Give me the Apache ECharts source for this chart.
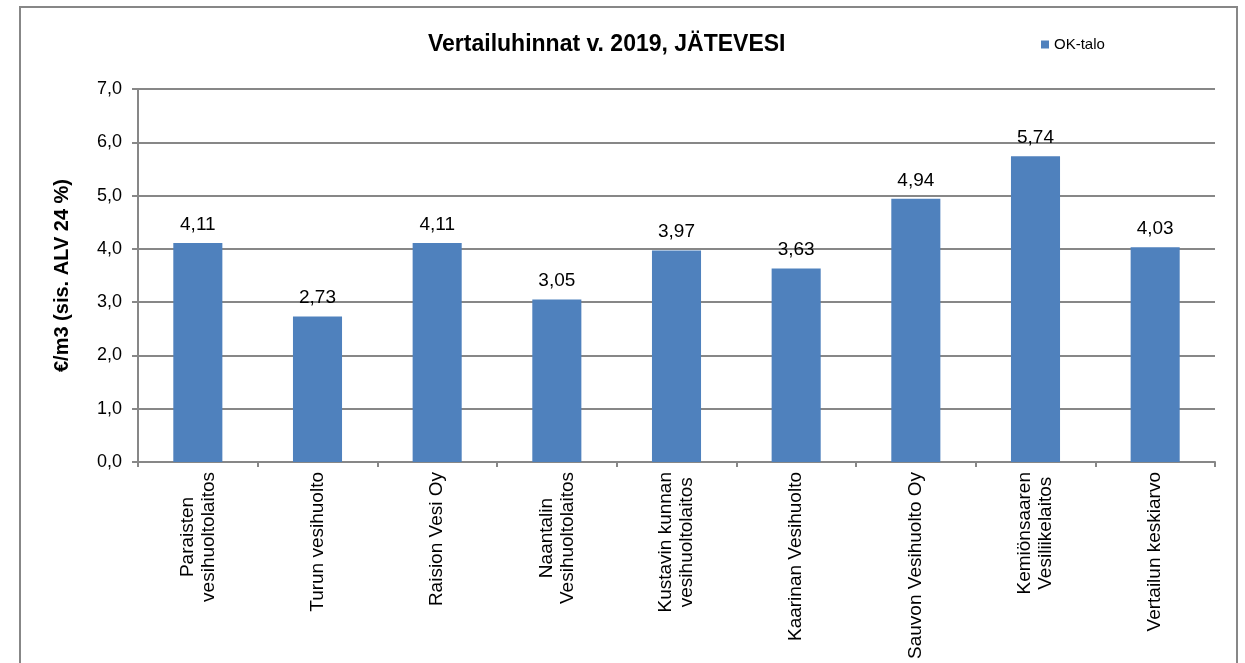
<!DOCTYPE html>
<html>
<head>
<meta charset="utf-8">
<script src="https://cdn.jsdelivr.net/npm/echarts@6/dist/echarts.min.js"></script>
<style>
  html, body { margin: 0; padding: 0; background: #fff; }
  #chart { width: 1245px; height: 663px; }
</style>
</head>
<body>
<div id="chart"></div>
<script>
// data
const categories = [
  'Paraisten\nvesihuoltolaitos',
  'Turun vesihuolto',
  'Raision Vesi Oy',
  'Naantalin\nVesihuoltolaitos',
  'Kustavin kunnan\nvesihuoltolaitos',
  'Kaarinan Vesihuolto',
  'Sauvon Vesihuolto Oy',
  'Kemiönsaaren\nVesiliikelaitos',
  'Vertailun keskiarvo'
]
const okTalo = [4.11, 2.73, 4.11, 3.05, 3.97, 3.63, 4.94, 5.74, 4.03]
const yTicks = [0, 1, 2, 3, 4, 5, 6, 7]

const font = 'Liberation Sans, Arial, sans-serif'
const gray = '#878787'
const fmt = (v, d) => v.toFixed(d).replace('.', ',')

const myChart = echarts.init(document.getElementById('chart'))

const option = {
  animation: false,
  textStyle: { fontFamily: font, color: '#000' },
  // outer frame of the chart area
  graphic: [{
    type: 'rect',
    shape: { x: 20, y: 7, width: 1217, height: 700 },
    style: { fill: 'none', stroke: gray, lineWidth: 2 },
    silent: true
  }],
  title: {
    text: 'Vertailuhinnat v. 2019, JÄTEVESI',
    left: 428,
    top: 33,
    padding: 0,
    textStyle: { fontFamily: font, fontWeight: 'bold', fontSize: 23, color: '#000' }
  },
  legend: {
    data: ['OK-talo'],
    left: 1036,
    top: 32,
    icon: 'rect',
    itemWidth: 8,
    itemHeight: 8,
    textStyle: { fontFamily: font, fontSize: 15, color: '#000' }
  },
  grid: {
    left: 138,
    right: 30,
    top: 89,
    bottom: 201,
    containLabel: false
  },
  xAxis: {
    type: 'category',
    data: categories,
    axisLine: { lineStyle: { color: gray, width: 2 } },
    axisTick: { show: true, length: 5, lineStyle: { color: gray, width: 2 } },
    axisLabel: {
      rotate: 90,
      margin: 10,
      interval: 0,
      formatter: (v) => v.split('\n').map(s => '{c|' + s + '}').join('\n'),
      rich: {
        c: { align: 'center', fontFamily: font, fontSize: 19, lineHeight: 21, color: '#000' }
      }
    }
  },
  yAxis: {
    type: 'value',
    min: yTicks[0],
    max: yTicks[yTicks.length - 1],
    interval: 1,
    name: '€/m3 (sis. ALV 24 %)',
    nameLocation: 'middle',
    nameGap: 66,
    nameTextStyle: { fontFamily: font, fontWeight: 'bold', fontSize: 20, color: '#000' },
    axisLine: { show: true, lineStyle: { color: gray, width: 2 } },
    axisTick: { show: true, length: 6, lineStyle: { color: gray, width: 2 } },
    axisLabel: {
      margin: 16,
      fontFamily: font,
      fontSize: 18,
      color: '#000',
      formatter: (v) => fmt(v, 1)
    },
    splitLine: { lineStyle: { color: gray, width: 2 } }
  },
  series: [{
    name: 'OK-talo',
    type: 'bar',
    data: okTalo,
    barWidth: '41%',
    itemStyle: { color: '#4F81BD' },
    label: {
      show: true,
      position: 'top',
      distance: 9,
      fontFamily: font,
      fontSize: 19,
      color: '#000',
      formatter: (p) => fmt(p.value, 2)
    }
  }]
}

myChart.setOption(option)
window.addEventListener('resize', function () {
  myChart.resize()
})
</script>
</body>
</html>
